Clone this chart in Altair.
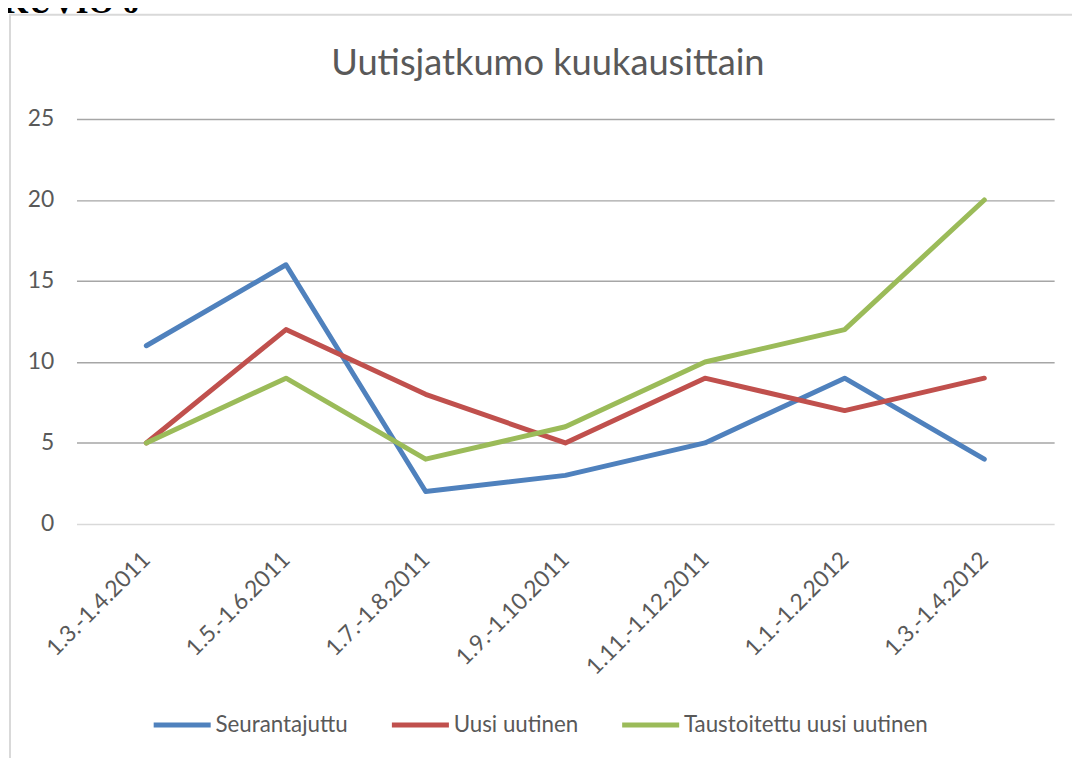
import altair as alt
import pandas as pd

categories = ["1.3.-1.4.2011", "1.5.-1.6.2011", "1.7.-1.8.2011", "1.9.-1.10.2011",
              "1.11.-1.12.2011", "1.1.-1.2.2012", "1.3.-1.4.2012"]
series_names = ["Seurantajuttu", "Uusi uutinen", "Taustoitettu uusi uutinen"]
seurantajuttu = [11, 16, 2, 3, 5, 9, 4]
uusi_uutinen = [5, 12, 8, 5, 9, 7, 9]
taustoitettu = [5, 9, 4, 6, 10, 12, 20]
colors = ["#4F81BD", "#C0504D", "#9BBB59"]

rows = []
for name, vals in zip(series_names, [seurantajuttu, uusi_uutinen, taustoitettu]):
    for i, (c, v) in enumerate(zip(categories, vals)):
        rows.append({"Jakso": c, "Arvo": v, "Sarja": name, "order": i})
df = pd.DataFrame(rows)

FONT = "Lato"
TXT = "#595959"

one = alt.Data(values=[{"a": 1}])

frame = alt.Chart(one).mark_rect(
    fillOpacity=0, stroke="#D9D9D9", strokeWidth=2
).encode(
    x=alt.value(-67), x2=alt.value(1100), y=alt.value(-105), y2=alt.value(800)
)

kuvio = alt.Chart(one).mark_text(
    text="KUVIO 6", font="Liberation Serif", fontWeight="bold", fontSize=33,
    align="left", baseline="alphabetic", color="#000000"
).encode(x=alt.value(-74), y=alt.value(-107))

title = alt.Chart(one).mark_text(
    text="Uutisjatkumo kuukausittain", font=FONT, fontSize=36.5,
    align="center", baseline="middle", color=TXT
).encode(x=alt.value(475), y=alt.value(-55))

lines = alt.Chart(df).mark_line(strokeWidth=5, strokeCap="round", strokeJoin="round").encode(
    x=alt.X("Jakso:N", sort=categories,
            scale=alt.Scale(type="point", padding=0.5),
            axis=alt.Axis(title=None, labelAngle=-45, labelAlign="right",
                          labelBaseline="middle", labelPadding=32,
                          labelFontSize=23, labelFont=FONT, labelColor=TXT,
                          ticks=False, domain=False, grid=False)),
    y=alt.Y("Arvo:Q", scale=alt.Scale(domain=[0, 25], nice=False),
            axis=alt.Axis(title=None, values=[0, 5, 10, 15, 20, 25],
                          labelFontSize=23, labelFont=FONT, labelColor=TXT,
                          labelPadding=23, ticks=False, domain=False,
                          gridColor={"condition": {"test": "datum.value === 0", "value": "#D9D9D9"},
                                     "value": "#A6A6A6"},
                          gridWidth=1.5)),
    color=alt.Color("Sarja:N", sort=series_names,
                    scale=alt.Scale(domain=series_names, range=colors),
                    legend=alt.Legend(title=None, orient="none", direction="horizontal",
                                      legendX=75, legendY=579,
                                      symbolType="stroke", symbolSize=3300,
                                      symbolStrokeWidth=5, labelFontSize=22.5,
                                      labelFont=FONT, labelColor=TXT,
                                      labelOffset=2, columnPadding=33,
                                      labelLimit=400)),
    order="order:Q",
)

chart = alt.layer(frame, kuvio, title, lines).properties(
    width=985, height=408,
    autosize=alt.AutoSizeParams(type="none"),
    padding={"left": 69, "top": 109, "right": 18, "bottom": 233},
).configure_view(stroke=None)

chart.save("out.html", embed_options={"renderer": "svg", "actions": False})
